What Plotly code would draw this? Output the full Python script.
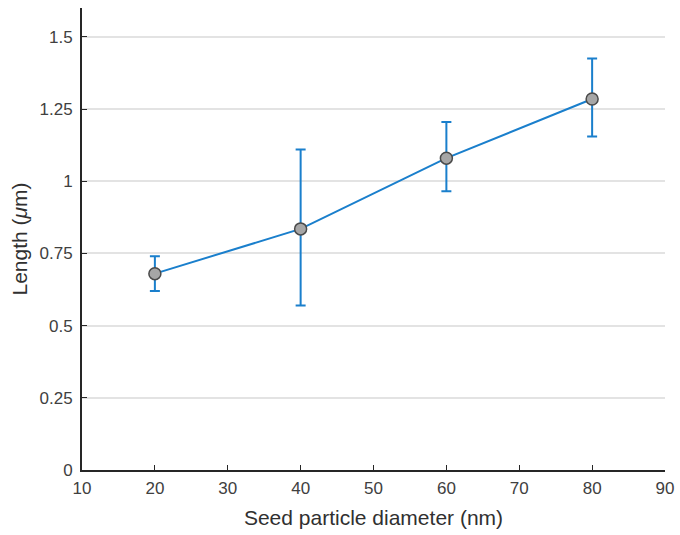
import plotly.graph_objects as go

diameter_nm = [20, 40, 60, 80]
length_um = [0.68, 0.835, 1.08, 1.285]
err_low = [0.62, 0.57, 0.965, 1.155]
err_high = [0.74, 1.11, 1.205, 1.425]

x_ticks = [10, 20, 30, 40, 50, 60, 70, 80, 90]
y_ticks = [0, 0.25, 0.5, 0.75, 1, 1.25, 1.5]
y_tick_labels = ["0", "0.25", "0.5", "0.75", "1", "1.25", "1.5"]

line_color = "#1a7fcc"

fig = go.Figure()
fig.add_trace(go.Scatter(
    x=diameter_nm, y=length_um,
    mode="lines+markers",
    line=dict(color=line_color, width=2),
    marker=dict(size=12, color="#a6a6a6", line=dict(color="#4a4a4a", width=1.5)),
    error_y=dict(
        type="data", symmetric=False,
        array=[h - v for h, v in zip(err_high, length_um)],
        arrayminus=[v - l for v, l in zip(length_um, err_low)],
        color=line_color, thickness=2, width=5,
    ),
    showlegend=False,
))

font = "Liberation Sans, Arial, sans-serif"
fig.update_layout(
    width=680, height=535,
    margin=dict(l=82, r=15, t=8, b=65, autoexpand=False),
    plot_bgcolor="white", paper_bgcolor="white",
    font=dict(family=font, size=17, color="#262626"),
    xaxis=dict(
        range=[10, 90], tickvals=x_ticks, ticks="inside", ticklen=5,
        tickcolor="#262626", showline=True, linecolor="#262626", linewidth=2,
        showgrid=False, zeroline=False, ticklabelstandoff=2,
        tickfont=dict(size=17, color="#404040"),
        title=dict(text="Seed particle diameter (nm)", font=dict(size=21, color="#303030"), standoff=13),
    ),
    yaxis=dict(
        range=[0, 1.6], tickvals=y_ticks, ticktext=y_tick_labels, ticks="inside", ticklen=5,
        tickcolor="#262626", showline=True, linecolor="#262626", linewidth=2,
        showgrid=True, gridcolor="#e3e3e3", gridwidth=1.5, zeroline=False,
        ticklabelstandoff=4,
        tickfont=dict(size=17, color="#404040"),
        title=dict(text="Length (<i>μ</i>m)", font=dict(size=21, color="#303030"), standoff=6),
    ),
)

fig.write_html("out.html")
